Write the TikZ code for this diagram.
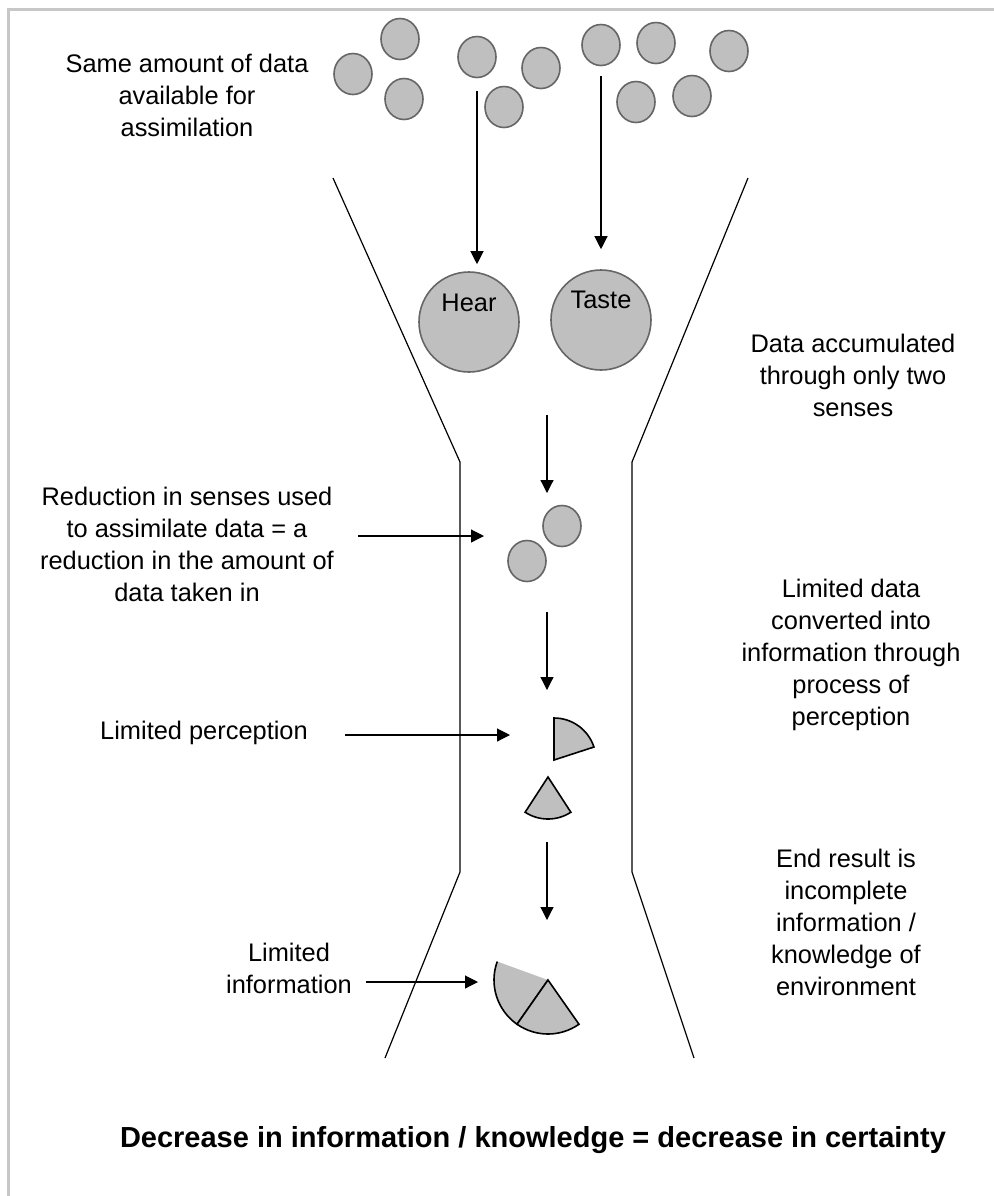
\documentclass[tikz,border=0pt]{standalone}
\usepackage{fontspec}
\setmainfont{Liberation Sans}
\usetikzlibrary{arrows.meta,shapes.geometric}
\tikzset{
  >={Triangle[length=6.5pt,width=6.5pt]},
  dot/.style={ellipse,draw=black!60,fill=black!25,line width=0.8pt,minimum width=19pt,minimum height=20.5pt,inner sep=0pt},
  sense/.style={circle,draw=black!60,fill=black!25,line width=0.8pt,minimum size=50pt,inner sep=0pt},
  arr/.style={->,line width=0.6pt},
  wall/.style={line width=0.6pt},
  piece/.style={draw=black,fill=black!25,line width=0.8pt},
  lbl/.style={align=center,font=\fontsize{12.7}{16}\selectfont,inner sep=0pt},
  frame/.style={draw=black!22,line width=1.2pt}
}
\begin{document}
\begin{tikzpicture}[x=0.5pt,y=-0.5pt]
\useasboundingbox (0,0) rectangle (994,1196);
% frame
\draw[frame] (8.5,1196) -- (8.5,9.5) -- (994,9.5);

% funnel
\draw[wall] (333,178) -- (460,462) -- (460,872) -- (385,1058);
\draw[wall] (748,178) -- (632,462) -- (632,872) -- (694,1058);

% data available
\node[dot] (d1) at (353,74) {};
\node[dot] (d2) at (400,39) {};
\node[dot] (d3) at (404,99) {};
\node[dot] (d4) at (477,57) {};
\node[dot] (d5) at (504,107) {};
\node[dot] (d6) at (541,68) {};
\node[dot] (d7) at (601,45) {};
\node[dot] (d8) at (656,43) {};
\node[dot] (d9) at (729,51) {};
\node[dot] (d10) at (636,102) {};
\node[dot] (d11) at (692,96) {};

% senses
\node[sense] (hear) at (469,322) {};
\node[lbl] (hear-t) at ([yshift=9.5pt]hear.center) {Hear};
\node[sense] (taste) at (601,320) {};
\node[lbl] (taste-t) at ([yshift=10pt]taste.center) {Taste};
\draw[arr] ([yshift=-6.5pt]d4.south) -- ([yshift=3.5pt]d4.south |- hear.north);
\draw[arr] ([yshift=-5pt]d7.south) -- ([yshift=10pt]taste.north);

% reduced data
\node[dot] (s1) at (562,526) {};
\node[dot] (s2) at (527,561) {};
\coordinate (a1) at (547,415);
\coordinate (a2) at (547,493);
\draw[arr] (a1) -- (a2);

% perception
\coordinate (a3) at (547,612);
\coordinate (a4) at (547,690);
\draw[arr] (a3) -- (a4);
\coordinate (p1) at (554,760);
\filldraw[piece] (p1) -- +(270:42) arc[start angle=270,end angle=342,radius=42] -- cycle;
\coordinate (p2) at (548,777);
\filldraw[piece] (p2) -- +(57:42) arc[start angle=57,end angle=123,radius=42] -- cycle;

% information
\coordinate (a5) at (547,842);
\coordinate (a6) at (547,920);
\draw[arr] (a5) -- (a6);
\coordinate (c) at (548,980);
\fill[black!25] (c) -- +(200:54) arc[start angle=200,end angle=125,radius=54] -- cycle;
\draw[line width=0.8pt] (c) ++(200:54) arc[start angle=200,end angle=125,radius=54] -- (c);
\filldraw[piece] (c) -- +(125:54) arc[start angle=125,end angle=55,radius=54] -- cycle;

% labels
\node[lbl] (same) at (187,95) {Same amount of data\\available for\\assimilation};
\node[lbl] (accum) at (853,375) {Data accumulated\\through only two\\senses};
\node[lbl] (reduce) at (187,544) {Reduction in senses used\\to assimilate data = a\\reduction in the amount of\\data taken in};
\node[lbl] (limdata) at (851,655) {Limited data\\converted into\\information through\\process of\\perception};
\node[lbl] (limperc) at (204,733) {Limited perception};
\node[lbl] (endres) at (846,922) {End result is\\incomplete\\information /\\knowledge of\\environment};
\node[lbl] (liminfo) at (289,968) {Limited\\information};
\node[lbl,font=\bfseries\fontsize{14.5}{16}\selectfont] (concl) at (533,1140) {Decrease in information / knowledge = decrease in certainty};

% pointers
\coordinate (r0) at (358,536);
\coordinate (r1) at (484,536);
\draw[arr] (r0) -- (r1);
\coordinate (q0) at (345,735);
\coordinate (q1) at (510,735);
\draw[arr] (q0) -- (q1);
\coordinate (i0) at (366,982);
\coordinate (i1) at (478,982);
\draw[arr] (i0) -- (i1);
\end{tikzpicture}
\end{document}
